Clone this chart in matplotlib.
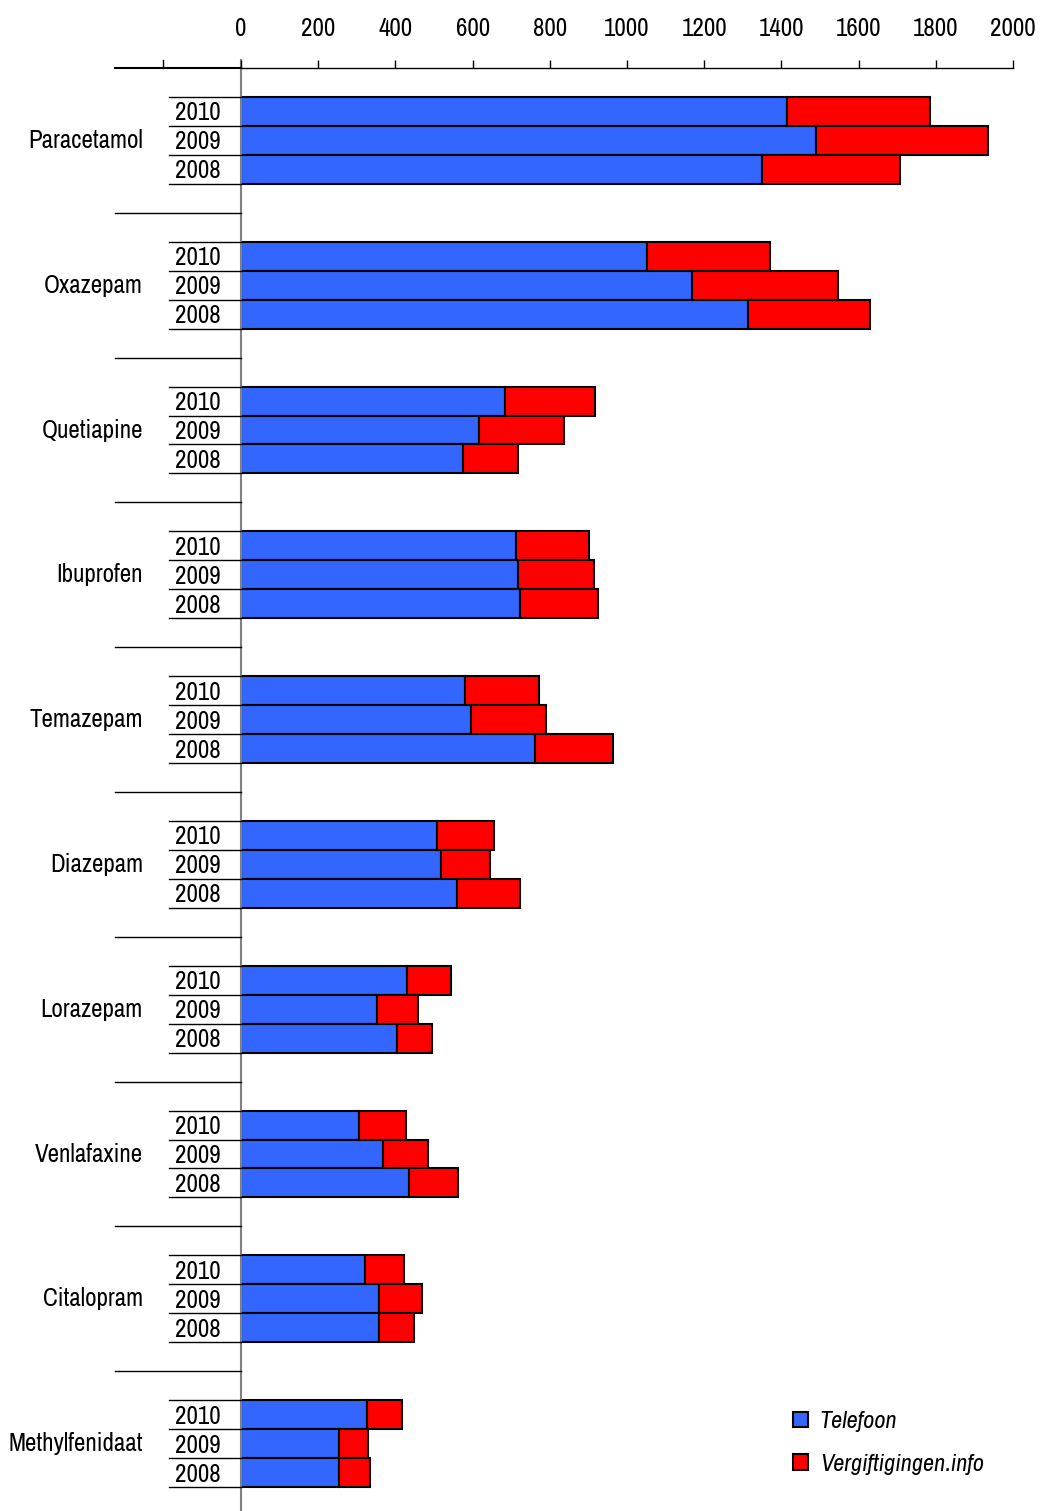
import matplotlib.pyplot as plt
import numpy as np

drugs = ['Paracetamol', 'Oxazepam', 'Quetiapine', 'Ibuprofen', 'Temazepam',
         'Diazepam', 'Lorazepam', 'Venlafaxine', 'Citalopram', 'Methylfenidaat']
years = ['2010', '2009', '2008']

# per drug: [2010, 2009, 2008]
telefoon = [[1414, 1490, 1350],
            [1052, 1168, 1313],
            [684, 617, 575],
            [712, 718, 723],
            [580, 596, 762],
            [508, 518, 560],
            [430, 352, 404],
            [306, 368, 435],
            [321, 358, 358],
            [326, 254, 254]]
vergiftigingen = [[371, 445, 357],
                  [318, 379, 317],
                  [233, 220, 143],
                  [190, 197, 202],
                  [192, 194, 202],
                  [147, 127, 163],
                  [114, 107, 91],
                  [121, 116, 127],
                  [101, 111, 90],
                  [91, 75, 80]]
xticks = [0, 200, 400, 600, 800, 1000, 1200, 1400, 1600, 1800, 2000]

FONT = ['Archivo Narrow', 'DejaVu Sans']
plt.rcParams['font.family'] = FONT

W, H = 1042, 1511
fig = plt.figure(figsize=(W / 100, H / 100), dpi=100)
ax = fig.add_axes([241 / W, 0, 772 / W, (H - 68) / H])

tel = np.array(telefoon)
ver = np.array(vergiftigingen)
n = len(drugs)
# each group has 5 rows: blank, 2010, 2009, 2008, blank
rows = np.array([[1.5 + 5 * g + k for k in range(3)] for g in range(n)])

ax.barh(rows.ravel(), tel.ravel(), height=1.0, color='#3366FF',
        edgecolor='black', linewidth=1.5, label='Telefoon')
ax.barh(rows.ravel(), ver.ravel(), left=tel.ravel(), height=1.0, color='#FF0000',
        edgecolor='black', linewidth=1.5, label='Vergiftigingen.info')

ax.set_xlim(0, 2000)
ax.set_ylim((H - 68) / 28.96, 0)

for s in ['left', 'right', 'bottom']:
    ax.spines[s].set_visible(False)
ax.spines['top'].set_linewidth(1.0)
ax.xaxis.tick_top()
ax.set_xticks(xticks)
ax.set_xticklabels([str(t) for t in xticks], fontsize=18)
ax.tick_params(axis='x', direction='out', length=6, width=1, pad=14)
ax.set_yticks([])

# left part of the top axis with its extra tick
ax.plot([-326, 0], [0, 0], color='black', lw=1.5, clip_on=False)
ax.plot([-202, -202], [0, -0.28], color='black', lw=1, clip_on=False)
# vertical axis line
ax.plot([0, 0], [-0.28, 50], color='#808080', lw=1.5, clip_on=False, zorder=1)

for g in range(n):
    top = 1 + 5 * g
    ax.text(-254, top + 1.5, drugs[g], ha='right', va='center', fontsize=18)
    for k in range(3):
        ax.text(-54, top + k + 0.55, years[k], ha='right', va='center', fontsize=18)
    for k in range(4):
        ax.plot([-186, 0], [top + k, top + k], color='black', lw=1, clip_on=False)
    if g < n - 1:
        ax.plot([-326, 0], [top + 4, top + 4], color='black', lw=1, clip_on=False)

ax.legend(loc='upper left', bbox_to_anchor=(781 / W, (H - 1399) / H),
          bbox_transform=fig.transFigure, frameon=False,
          prop={'family': FONT, 'style': 'italic', 'size': 17.5},
          handlelength=0.6, handleheight=0.6, handletextpad=0.5,
          labelspacing=0.88, borderpad=0)

fig.savefig('out.png', dpi=100)
